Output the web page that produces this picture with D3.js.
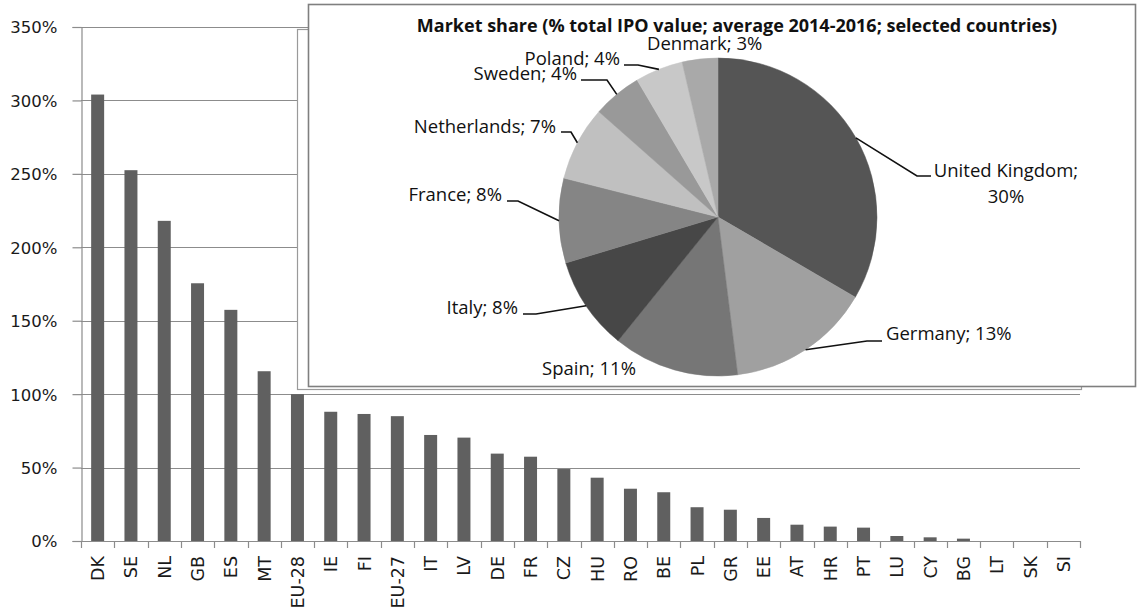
<!DOCTYPE html>
<html><head><meta charset="utf-8">
<script src="https://cdn.jsdelivr.net/npm/d3@7"></script>
<style>
html,body{margin:0;padding:0;background:#fff;}
svg{display:block;}
</style></head>
<body>
<svg id="c" width="1138" height="611"></svg>
<script>
// ---- Data ----
const categories = ["DK","SE","NL","GB","ES","MT","EU-28","IE","FI","EU-27","IT","LV","DE","FR","CZ","HU","RO","BE","PL","GR","EE","AT","HR","PT","LU","CY","BG","LT","SK","SI"];
const barValues = [304,252.5,218,175.5,157.4,115.6,100,88,86.5,85,72.2,70.4,59.5,57.4,49,43.1,35.6,33.2,23,21.3,15.7,11.1,9.8,9.1,3.4,2.5,1.6,0,0,0];
const yTicks = [0,50,100,150,200,250,300,350];

const pieTitle = "Market share (% total IPO value; average 2014-2016; selected countries)";
const pieCountries = ["United Kingdom","Germany","Spain","Italy","France","Netherlands","Sweden","Poland","Denmark"];
const pieValues = [29.5,12.9,11.3,8.4,7.6,6.7,4.4,4.3,3.2];
const pieColors = ["#555555","#a0a0a0","#767676","#474747","#858585","#c0c0c0","#999999","#c8c8c8","#a9a9a9"];

// label layout (positions only)
const labelLayout = [
  {x:1006, y:177, anchor:"middle", wrap:true, elbow:[917,176], end:[931,176]},
  {x:886, y:340, anchor:"start", elbow:[867,341], end:[882,341]},
  {x:589, y:375, anchor:"middle"},
  {x:518, y:314, anchor:"end", elbow:[536,314], end:[523,314]},
  {x:502, y:201, anchor:"end", elbow:[518,201], end:[507,201]},
  {x:556, y:133, anchor:"end", elbow:[571,132], end:[561,132]},
  {x:577, y:80, anchor:"end", elbow:[607,80], end:[581,80]},
  {x:620, y:65, anchor:"end", elbow:[638,65], end:[624,65]},
  {x:647, y:50, anchor:"start"}
];

const svg = d3.select("#c");
const gray = "#8c8c8c";

// ---- Bar chart ----
const x = d3.scaleBand().domain(categories).range([81,1080]).paddingInner(0.61).paddingOuter(0.305);
const xb = d3.scaleBand().domain(categories).range([81,1080]);
const y = d3.scaleLinear().domain([0,350]).range([541,27]);

const grid = svg.append("g");
grid.selectAll("line").data(yTicks.filter(d=>d>0)).join("line")
  .attr("x1",81).attr("x2",1080)
  .attr("y1",d=>Math.round(y(d))+0.5).attr("y2",d=>Math.round(y(d))+0.5)
  .attr("stroke",gray).attr("stroke-width",1.2);

svg.append("g").selectAll("rect").data(barValues).join("rect")
  .attr("x",(d,i)=>x(categories[i]))
  .attr("width",x.bandwidth())
  .attr("y",d=>y(d))
  .attr("height",d=>541-y(d))
  .attr("fill","#606060");

// y axis
const yAxis = d3.axisLeft(y).tickValues(yTicks).tickSize(9).tickFormat(d=>d+"%");
const ya = svg.append("g").attr("transform","translate(81.5,0)").call(yAxis);
ya.select(".domain").attr("stroke",gray).attr("stroke-width",1.2);
ya.selectAll(".tick line").attr("stroke",gray).attr("stroke-width",1.2);
ya.selectAll(".tick text").attr("x",-24).attr("dy","0.36em")
  .style("font-family","'DejaVu Sans', Verdana, sans-serif").style("font-size","16.5px").attr("fill","#1a1a1a");

// x axis: boundary ticks
const xa = svg.append("g");
xa.append("line").attr("x1",81).attr("x2",1080).attr("y1",541.5).attr("y2",541.5).attr("stroke",gray).attr("stroke-width",1.2);
xa.selectAll("line.tk").data(categories.concat(["__end"])).join("line").attr("class","tk")
  .attr("x1",(d,i)=>Math.round(i<categories.length? xb(d): 1080)+0.5)
  .attr("x2",(d,i)=>Math.round(i<categories.length? xb(d): 1080)+0.5)
  .attr("y1",541).attr("y2",548).attr("stroke",gray).attr("stroke-width",1.2);
xa.selectAll("text").data(categories).join("text")
  .attr("transform",d=>`translate(${x(d)+x.bandwidth()/2+6.5},556) rotate(-90)`)
  .attr("text-anchor","end")
  .style("font-family","'DejaVu Sans', Verdana, sans-serif").style("font-size","17.5px").attr("fill","#1a1a1a")
  .text(d=>d);

// ---- Inset pie chart ----
svg.append("rect").attr("x",297.5).attr("y",29.5).attr("width",784).attr("height",360)
  .attr("fill","#fff").attr("stroke","#9a9a9a").attr("stroke-width",1.2);
svg.append("rect").attr("x",308.5).attr("y",4.5).attr("width",827).attr("height",382)
  .attr("fill","#fff").attr("stroke","#7f7f7f").attr("stroke-width",1.6);

svg.append("text").attr("x",737).attr("y",32).attr("text-anchor","middle")
  .style("font-family","'Open Sans', sans-serif").style("font-weight","bold").style("font-size","18px")
  .attr("fill","#111").text(pieTitle);

const cx = 718, cy = 217, R = 159;
const pie = d3.pie().sort(null).value(d=>d);
const arcs = pie(pieValues);
const arc = d3.arc().innerRadius(0).outerRadius(R);
const pg = svg.append("g").attr("transform",`translate(${cx},${cy})`);
pg.selectAll("path").data(arcs).join("path").attr("d",arc)
  .attr("fill",(d,i)=>pieColors[i]).attr("stroke",(d,i)=>pieColors[i]).attr("stroke-width",0.5);

const lg = svg.append("g");
arcs.forEach((a,i)=>{
  const L = labelLayout[i];
  const mid = (a.startAngle+a.endAngle)/2;
  const px = cx + R*Math.sin(mid), py = cy - R*Math.cos(mid);
  if (L.elbow){
    lg.append("polyline")
      .attr("points",`${px},${py} ${L.elbow[0]},${L.elbow[1]} ${L.end[0]},${L.end[1]}`)
      .attr("fill","none").attr("stroke","#111").attr("stroke-width",1.6);
  }
  const pct = Math.round(pieValues[i]) + "%";
  const t = lg.append("text").attr("x",L.x).attr("y",L.y).attr("text-anchor",L.anchor)
    .style("font-family","'Open Sans', sans-serif").style("font-size","18.5px").attr("fill","#111");
  if (L.wrap){
    t.append("tspan").attr("x",L.x).attr("y",L.y).text(pieCountries[i]+";");
    t.append("tspan").attr("x",L.x).attr("y",L.y+26).text(pct);
  } else {
    t.text(pieCountries[i]+"; "+pct);
  }
});
</script>
</body></html>
